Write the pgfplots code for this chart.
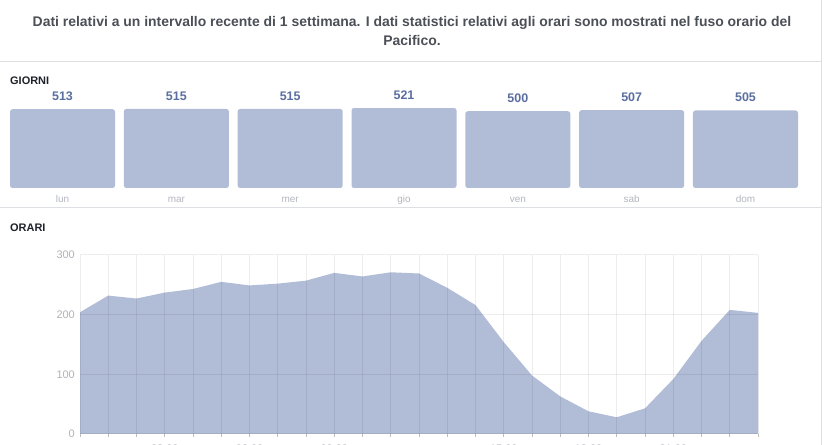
\documentclass[border=0pt]{standalone}
\usepackage{pgfplots}
\pgfplotsset{compat=1.18}
\usepackage{fontspec}
\setmainfont{Liberation Sans}
\definecolor{barcol}{HTML}{B1BCD7}
\definecolor{valcol}{HTML}{5A6FA0}
\definecolor{daycol}{HTML}{B3B7BF}
\definecolor{tickcol}{HTML}{B0B3BA}
\definecolor{linecol}{HTML}{DDDFE2}
\definecolor{titlecol}{HTML}{4B4F56}
\definecolor{headcol}{HTML}{1D2129}
\pgfplotsset{/pgf/number format/assume math mode=true}
\begin{document}
\begin{tikzpicture}[x=1bp,y=1bp]
\useasboundingbox (0,0) rectangle (825,445);
\fill[white] (0,0) rectangle (825,445);
\draw[linecol, line width=1bp] (0,383.5) -- (821.5,383.5);
\draw[linecol, line width=1bp] (0,237.5) -- (821.5,237.5);
\draw[linecol, line width=1bp] (821.5,0) -- (821.5,445);
\node[anchor=base, inner sep=0pt, text=titlecol, font=\bfseries\fontsize{14}{16}\selectfont] at (412,418) {Dati relativi a un intervallo recente di 1 settimana. I dati statistici relativi agli orari sono mostrati nel fuso orario del};
\node[anchor=base, inner sep=0pt, text=titlecol, font=\bfseries\fontsize{14}{16}\selectfont] at (412,399) {Pacifico.};
\node[anchor=base west, inner sep=0pt, text=headcol, font=\bfseries\fontsize{11}{12}\selectfont] at (10,360.5) {GIORNI};
\node[anchor=base west, inner sep=0pt, text=headcol, font=\bfseries\fontsize{11}{12}\selectfont] at (10,213) {ORARI};

\begin{axis}[at={(5.6bp,257bp)}, anchor=south west, scale only axis,
  width=796.8bp, height=92.1bp,
  xmin=-0.5, xmax=6.5, ymin=0, ymax=600,
  axis line style={draw=none}, major tick length=0pt,
  xtick=data, ytick=\empty,
  xticklabels={lun,mar,mer,gio,ven,sab,dom},
  xticklabel style={anchor=base, inner sep=0pt, yshift=-15bp, text=daycol, font=\fontsize{10}{12}\selectfont},
  clip=false]
\addplot[ybar, fill=barcol, draw=none, bar width=105bp, rounded corners=2.5bp,
  nodes near coords,
  nodes near coords style={anchor=base, inner sep=0pt, yshift=8.5bp, text=valcol, font=\bfseries\fontsize{12.5}{14}\selectfont}]
  coordinates {(0,513) (1,515) (2,515) (3,521) (4,500) (5,507) (6,505)};
\end{axis}

\begin{axis}[at={(80bp,11bp)}, anchor=south west, scale only axis,
  width=678bp, height=179bp,
  xmin=0, xmax=24, ymin=0, ymax=300,
  xtick={0,...,24},
  xticklabels={{},{},{},03:00,{},{},06:00,{},{},09:00,{},{},{},{},{},15:00,{},{},18:00,{},{},21:00,{},{},{}},
  ytick={0,100,200,300},
  grid=major, grid style={black, opacity=0.07, line width=1bp},
  axis line style={draw=none}, axis on top,
  xtick pos=lower, ytick pos=left, tick align=outside, major tick length=3bp,
  x tick style={draw=black!25, line width=0.8bp},
  y tick style={draw=none},
  yticklabel style={anchor=east, inner sep=0pt, xshift=-2bp, text=tickcol, font=\fontsize{11}{12}\selectfont},
  xticklabel style={anchor=base, inner sep=0pt, yshift=-16bp, text=tickcol, font=\fontsize{11}{12}\selectfont},
  clip=false]
\addplot[fill=barcol, draw=none] coordinates {
(0,204) (1,232) (2,227) (3,237) (4,243) (5,255) (6,249) (7,252) (8,257)
(9,270) (10,264) (11,271) (12,269) (13,245) (14,216) (15,154) (16,98)
(17,63) (18,38) (19,28) (20,43) (21,92) (22,156) (23,208) (24,203)} \closedcycle;
\end{axis}
\end{tikzpicture}
\end{document}
